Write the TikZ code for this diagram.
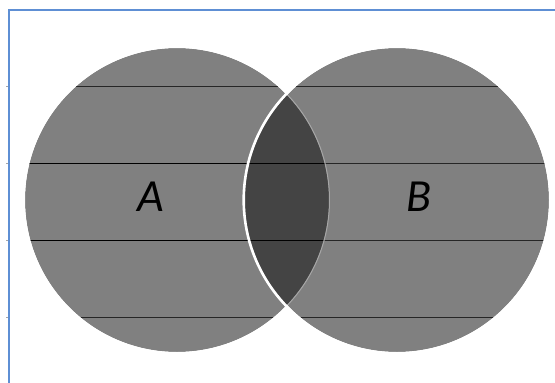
\documentclass[tikz,border=0pt]{standalone}
\usepackage{fontspec}
\setmainfont{Carlito}
\begin{document}
\begin{tikzpicture}[x=1pt,y=-1pt,
  setfill/.style={fill=setgray},
  hline/.style={draw=black!85,line width=0.8pt},
  rim/.style={draw=white,line width=2.6pt},
  lbl/.style={font=\fontsize{46}{46}\selectfont\itshape,text=black,inner sep=0pt}]
\definecolor{setgray}{RGB}{128,128,128}
\definecolor{lensgray}{RGB}{68,68,68}
\definecolor{framblue}{RGB}{94,143,212}
\useasboundingbox (0,0) rectangle (555,383);
\fill[white] (0,0) rectangle (555,383);
\begin{scope}
\clip (0,0) rectangle (555,383);
\draw[framblue,line width=2pt] (9,400) -- (9,10) -- (600,10);
\foreach \yy in {86,163,240,317} \draw[black!35,line width=0.5pt] (6,\yy) -- (8,\yy);
\end{scope}
% circles
\coordinate (ca) at (177,200);
\coordinate (cb) at (397,200);
\fill[setgray] (ca) circle[radius=152];
\fill[setgray] (cb) circle[radius=152];
% horizontal lines
\begin{scope}
\clip (ca) circle[radius=152];
\foreach \yy in {86,163,240,317} \draw[hline] (0,\yy) -- (555,\yy);
\end{scope}
\begin{scope}
\clip (cb) circle[radius=152];
\foreach \yy in {86,163,240,317} \draw[hline] (0,\yy) -- (555,\yy);
\end{scope}
% lens
\begin{scope}
\clip (ca) circle[radius=152];
\fill[lensgray] (cb) circle[radius=152];
\foreach \yy in {163,240} \draw[draw=black,line width=0.8pt] (0,\yy) -- (555,\yy);
\end{scope}
\begin{scope}
\clip (cb) circle[radius=152];
\draw[draw=black!35!white,line width=1pt] (ca) circle[radius=152.5];
\end{scope}
% outlines
\begin{scope}[even odd rule]
\clip (-10,-10) rectangle (600,400) (cb) circle[radius=152];
\draw[draw=white,line width=1.2pt] (ca) circle[radius=152.6];
\end{scope}
\draw[rim] (cb) circle[radius=153.3];
% labels
\node[lbl] (la) at (151,197) {A};
\node[lbl] (lb) at (419,197) {B};
\end{tikzpicture}
\end{document}
